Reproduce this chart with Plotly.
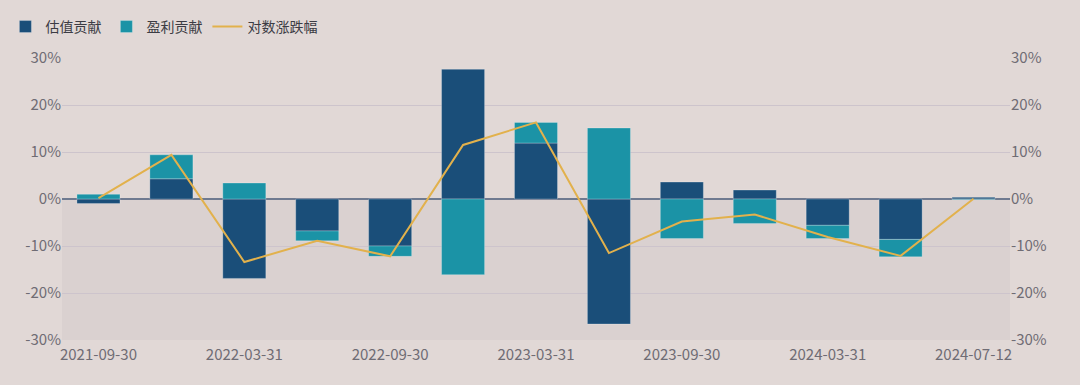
import plotly.graph_objects as go

dates = ["2021-09-30", "2021-12-31", "2022-03-31", "2022-06-30", "2022-09-30",
         "2022-12-31", "2023-03-31", "2023-06-30", "2023-09-30", "2023-12-31",
         "2024-03-31", "2024-06-30", "2024-07-12"]
valuation = [-0.95, 4.3, -16.9, -6.8, -10.0, 27.6, 11.9, -26.6, 3.6, 1.9, -5.6, -8.6, 0.35]
earnings = [1.0, 5.1, 3.4, -2.1, -2.2, -16.1, 4.4, 15.1, -8.4, -5.2, -2.8, -3.7, -0.1]
log_return = [0.2, 9.4, -13.4, -8.9, -12.2, 11.5, 16.3, -11.5, -4.8, -3.3, -8.1, -12.1, 0.05]
tick_labels = ["2021-09-30", "2022-03-31", "2022-09-30", "2023-03-31",
               "2023-09-30", "2024-03-31", "2024-07-12"]
y_ticks = [-30, -20, -10, 0, 10, 20, 30]
y_tick_text = ["-30%", "-20%", "-10%", "0%", "10%", "20%", "30%"]

C_VAL = "#1a4e79"
C_EARN = "#1b93a6"
C_LINE = "#e2b14c"
FONT = "Noto Sans CJK SC"
TICK_COLOR = "#6f6c74"

fig = go.Figure()
fig.add_trace(go.Bar(x=dates, y=valuation, name="估值贡献", marker_color=C_VAL,
                     marker_line=dict(color="rgba(255,255,255,0.25)", width=1)))
fig.add_trace(go.Bar(x=dates, y=earnings, name="盈利贡献", marker_color=C_EARN,
                     marker_line=dict(color="rgba(255,255,255,0.25)", width=1)))
fig.add_trace(go.Scatter(x=dates, y=log_return, name="对数涨跌幅", mode="lines",
                         line=dict(color=C_LINE, width=2)))
# invisible trace to activate right axis
fig.add_trace(go.Scatter(x=dates, y=log_return, yaxis="y2", mode="lines",
                         line=dict(width=0), showlegend=False, hoverinfo="skip",
                         opacity=0))

fig.add_shape(type="rect", xref="paper", yref="y", x0=0, x1=1, y0=-30, y1=0,
              fillcolor="#dad1d0", line_width=0, layer="below")

fig.update_layout(
    width=1080, height=385,
    margin=dict(l=62, r=70, t=58, b=45, autoexpand=False),
    paper_bgcolor="#e1d8d6", plot_bgcolor="rgba(0,0,0,0)",
    barmode="relative", bargap=0.41,
    font=dict(family=FONT, size=15, color=TICK_COLOR),
    legend=dict(orientation="h", xref="container", yref="container",
                x=0.005, xanchor="left", y=0.93, yanchor="middle",
                font=dict(size=14, color="#3c3c44"), bgcolor="rgba(0,0,0,0)",
                itemwidth=30, tracegroupgap=0),
    xaxis=dict(type="category", tickmode="array", tickvals=tick_labels, ticktext=tick_labels,
               showgrid=False, zeroline=False, showline=False, ticks="",
               ticklabelstandoff=4, automargin=False,
               tickfont=dict(size=15, color=TICK_COLOR)),
    yaxis=dict(range=[-30, 30], tickmode="array", tickvals=y_ticks, ticktext=y_tick_text,
               showgrid=True, gridcolor="#cdc4cc", gridwidth=1, zeroline=True,
               zerolinecolor="#6f7a90", zerolinewidth=1.5, showline=False, ticks="",
               automargin=False, tickfont=dict(size=15, color=TICK_COLOR)),
    yaxis2=dict(range=[-30, 30], tickmode="array", tickvals=y_ticks, ticktext=y_tick_text,
                overlaying="y", side="right", automargin=False,
                showgrid=False, zeroline=False, showline=False, ticks="",
                tickfont=dict(size=15, color=TICK_COLOR)),
)

fig.write_html("out.html")
